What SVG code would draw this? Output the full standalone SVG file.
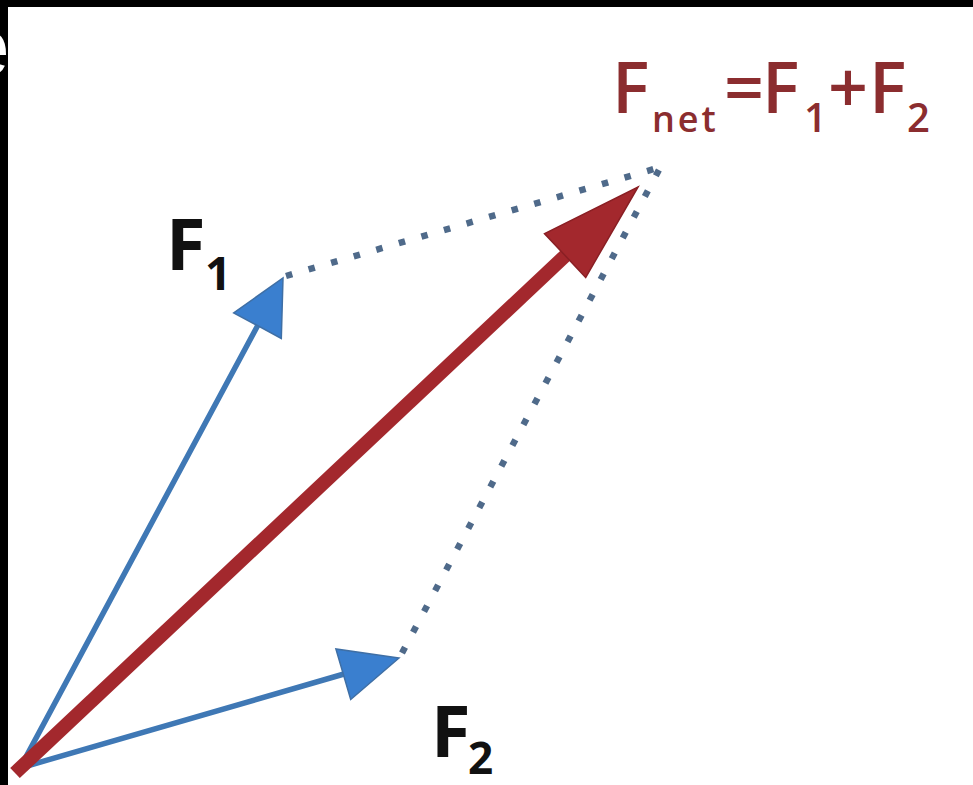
<svg xmlns="http://www.w3.org/2000/svg" width="973" height="785" viewBox="0 0 973 785">
<style>
.vec-blue{stroke:#3f78b5;stroke-width:5.5;fill:none;stroke-linecap:round}
.head-blue{fill:#3a7fcf;stroke:#3f6fa5;stroke-width:1.5;stroke-linejoin:miter}
.vec-red{stroke:#a3282d;stroke-width:14;fill:none;stroke-linecap:butt}
.head-red{fill:#a3282d;stroke:#8a1f24;stroke-width:1.5}
.dots{stroke:#4f6a8a;stroke-width:6.5;fill:none;stroke-dasharray:6.5 17}
.lbl{font-family:"Open Sans","Liberation Sans",sans-serif;fill:#111;font-weight:700}
.net{font-family:"Open Sans","Liberation Sans",sans-serif;fill:#8b2d2f;font-weight:600}
</style>
<rect x="0" y="0" width="973" height="785" fill="#000"/>
<text x="-36" y="75" font-family="Liberation Sans, sans-serif" font-size="82" fill="#fff">e</text>
<rect x="8" y="7" width="965" height="778" fill="#fff"/>
<g id="connectors">
<line class="dots" x1="286" y1="276" x2="661" y2="167"/>
<line class="dots" x1="402" y1="653" x2="660" y2="168"/>
</g>
<g id="F1-vector">
<line class="vec-blue" x1="20" y1="768" x2="258" y2="325"/>
<polygon class="head-blue" points="283,278 281.3,338.4 233.7,312.8"/>
</g>
<g id="F2-vector">
<line class="vec-blue" x1="20" y1="768" x2="344" y2="674"/>
<polygon class="head-blue" points="399,658 350.7,699.5 335.9,648.9"/>
</g>
<g id="Fnet-vector">
<line class="vec-red" x1="15" y1="773" x2="566" y2="255"/>
<polygon class="head-red" points="638,187 585.7,277.4 544.5,233.6"/>
</g>
<g id="F1-label">
<text class="lbl"><tspan x="166" y="270" font-size="72">F</tspan><tspan x="205" y="290" font-size="46">1</tspan></text>
</g>
<g id="F2-label">
<text class="lbl"><tspan x="431" y="757" font-size="72">F</tspan><tspan x="468" y="774" font-size="44">2</tspan></text>
</g>
<g id="Fnet-label">
<text class="net"><tspan x="612" y="113" font-size="70">F</tspan><tspan x="652" y="132" font-size="36" letter-spacing="3">net</tspan><tspan x="724" y="113" font-size="70">=</tspan><tspan x="762" y="113" font-size="70">F</tspan><tspan x="804" y="132" font-size="40">1</tspan><tspan x="828" y="113" font-size="70">+</tspan><tspan x="869" y="113" font-size="70">F</tspan><tspan x="907" y="132" font-size="40">2</tspan></text>
</g>
</svg>
